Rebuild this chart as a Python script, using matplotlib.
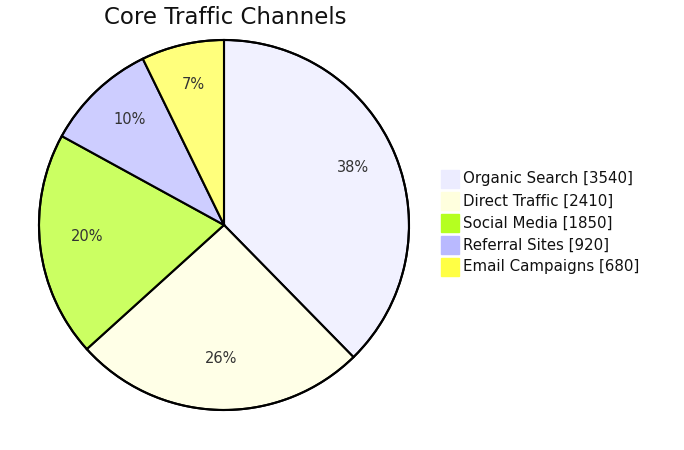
import matplotlib.pyplot as plt
from matplotlib.colors import to_rgba
from matplotlib.patches import Rectangle

plt.rcParams['font.family'] = ['DejaVu Sans']

title = "Core Traffic Channels"
channels = ["Organic Search", "Direct Traffic", "Social Media", "Referral Sites", "Email Campaigns"]
visits = [3540, 2410, 1850, 920, 680]
colors = ["#ECECFF", "#FFFFDE", "#B5FF20", "#B9B9FF", "#FFFF45"]

W, H = 684, 450
fig = plt.figure(figsize=(W / 100, H / 100), dpi=100)
ax = fig.add_axes([0, 0, 1, 1])

cx, cy, r = 224, H - 225, 185
wedges, texts, autotexts = ax.pie(
    visits,
    colors=[to_rgba(c, 0.7) for c in colors],
    startangle=90,
    counterclock=False,
    center=(cx, cy),
    radius=r,
    autopct="%1.0f%%",
    pctdistance=0.75,
    wedgeprops=dict(edgecolor="black", linewidth=1.5),
    textprops=dict(fontsize=10.5, color="#333333"),
    frame=True,
)
# mermaid puts the label baseline near the centroid, so lift them a bit
for t in autotexts:
    x, y = t.get_position()
    t.set_position((x + 1, y + 5))
ax.add_patch(plt.Circle((cx, cy), r, fill=False, edgecolor="black", linewidth=1.5))

ax.set_xlim(0, W)
ax.set_ylim(0, H)
ax.set_aspect("equal")
ax.axis("off")

ax.text(225, H - 18, title, ha="center", va="center", fontsize=16.5, color="#111111")

# legend
for i, (name, v, c) in enumerate(zip(channels, visits, colors)):
    y = H - (170 + i * 22)
    ax.add_patch(Rectangle((441, y - 18), 18, 18, facecolor=c, edgecolor=c))
    ax.text(463, y - 9, f"{name} [{v}]", ha="left", va="center", fontsize=10.8, color="#111111")

fig.savefig("out.png", dpi=100)
